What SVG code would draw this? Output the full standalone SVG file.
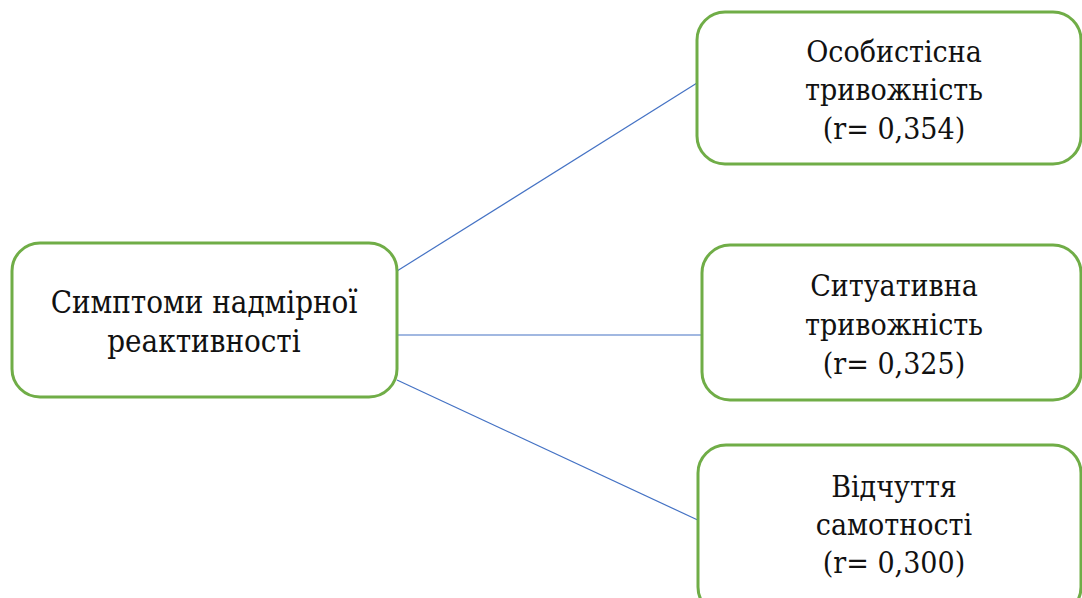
<svg xmlns="http://www.w3.org/2000/svg" width="1082" height="598" viewBox="0 0 1082 598">
<style>
.box{fill:#fff;stroke:#70AD47;stroke-width:3}
.lbl{font-family:"DejaVu Serif Condensed","DejaVu Serif","Liberation Serif",serif;font-stretch:condensed;font-size:30px;fill:#111;text-anchor:middle}
.big{font-size:31px}
.con{stroke:#4472C4;stroke-width:1.2;fill:none}
</style>
<rect width="1082" height="598" fill="#fff"/>
<g id="connectors">
<line class="con" x1="397" y1="271" x2="697" y2="83"/>
<line class="con" x1="397" y1="335" x2="709" y2="335"/>
<line class="con" x1="397" y1="380" x2="702" y2="522"/>
</g>
<g id="node-main">
<rect class="box" x="12" y="243" width="385" height="154" rx="28"/>
<text class="lbl big" x="204" y="313">Симптоми надмірної</text>
<text class="lbl big" x="204" y="352">реактивності</text>
</g>
<g id="node-1">
<rect class="box" x="697" y="12" width="384" height="152" rx="28"/>
<text class="lbl" x="894" y="62">Особистісна</text>
<text class="lbl" x="894" y="100">тривожність</text>
<text class="lbl" x="894" y="139">(r= 0,354)</text>
</g>
<g id="node-2">
<rect class="box" x="702" y="245" width="379" height="155" rx="28"/>
<text class="lbl" x="894" y="296">Ситуативна</text>
<text class="lbl" x="894" y="335">тривожність</text>
<text class="lbl" x="894" y="374">(r= 0,325)</text>
</g>
<g id="node-3">
<rect class="box" x="698" y="445" width="383" height="170" rx="28"/>
<text class="lbl" x="894" y="497">Відчуття</text>
<text class="lbl" x="894" y="535">самотності</text>
<text class="lbl" x="894" y="573">(r= 0,300)</text>
</g>
</svg>
